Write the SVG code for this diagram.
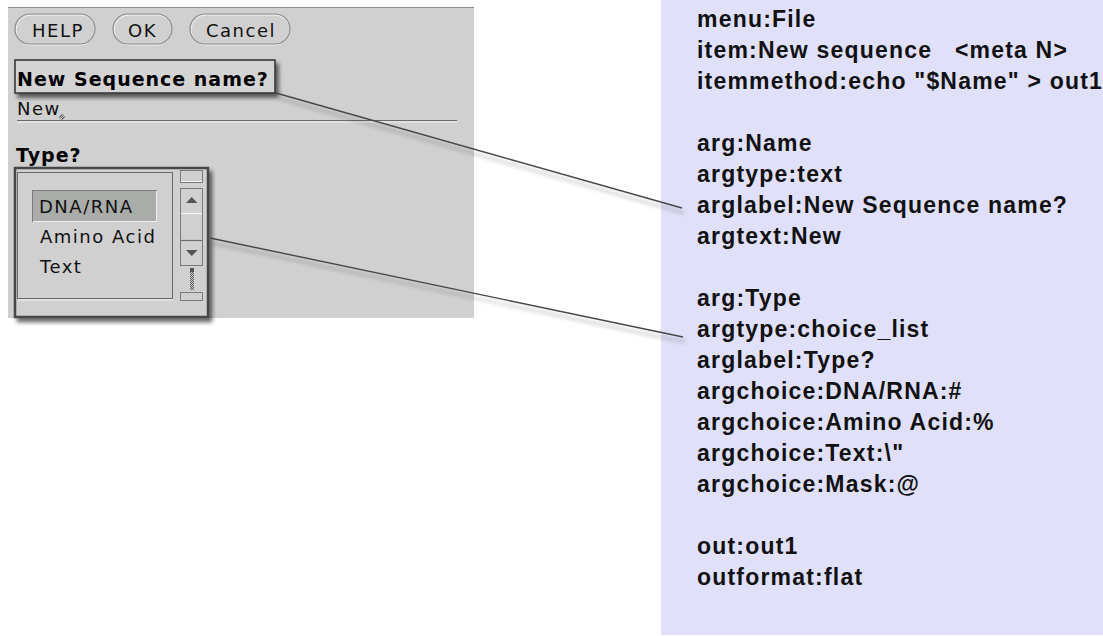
<svg xmlns="http://www.w3.org/2000/svg" width="1103" height="636" viewBox="0 0 1103 636">
  <defs>
    <filter id="shadow" x="-20%" y="-20%" width="150%" height="160%">
      <feGaussianBlur in="SourceAlpha" stdDeviation="2.2"/>
      <feOffset dx="3" dy="4" result="b"/>
      <feComponentTransfer><feFuncA type="linear" slope="0.6"/></feComponentTransfer>
      <feMerge><feMergeNode/><feMergeNode in="SourceGraphic"/></feMerge>
    </filter>
    <filter id="lineshadow" x="-10%" y="-50%" width="120%" height="200%">
      <feGaussianBlur in="SourceAlpha" stdDeviation="2"/>
      <feOffset dx="2" dy="5" result="b"/>
      <feComponentTransfer><feFuncA type="linear" slope="0.35"/></feComponentTransfer>
      <feMerge><feMergeNode/><feMergeNode in="SourceGraphic"/></feMerge>
    </filter>
    <pattern id="dither" width="2" height="2" patternUnits="userSpaceOnUse">
      <rect width="2" height="2" fill="#d0d0d0"/>
      <rect width="1" height="1" fill="#555"/>
      <rect x="1" y="1" width="1" height="1" fill="#555"/>
    </pattern>
  </defs>
  <style>
    .ui { font-family: "DejaVu Sans", sans-serif; font-size: 18px; fill: #111; letter-spacing: 1.5px; }
    .uib { font-family: "DejaVu Sans", sans-serif; font-size: 19px; font-weight: bold; fill: #000; letter-spacing: 1px; }
    .spec { font-family: "Liberation Sans", Arial, sans-serif; font-size: 23px; font-weight: bold; fill: #111; letter-spacing: 1.2px; }
    .btn { fill: none; stroke: #8a8a8a; stroke-width: 1.2; }
    .btnhi { fill: none; stroke: #f4f4f4; stroke-width: 1; }
    .sb { fill: #d0d0d0; stroke: #7a7a7a; stroke-width: 1; }
    .conn { fill: none; stroke: #474747; stroke-width: 1.4; }
  </style>

  <rect width="1103" height="636" fill="#ffffff"/>

  <g id="dialog">
    <rect x="8" y="7" width="466" height="311" fill="#d0d0d0"/>
    <line x1="8" y1="7.5" x2="474" y2="7.5" stroke="#8c8c8c" stroke-width="1"/>

    <g id="btn-help">
      <rect class="btnhi" x="16" y="15" width="79" height="30" rx="15"/>
      <rect class="btn" x="15" y="14" width="80" height="30" rx="15"/>
      <text class="ui" x="32" y="37">HELP</text>
    </g>
    <g id="btn-ok">
      <rect class="btnhi" x="114" y="15" width="58" height="30" rx="15"/>
      <rect class="btn" x="113" y="14" width="59" height="30" rx="15"/>
      <text class="ui" x="128" y="37">OK</text>
    </g>
    <g id="btn-cancel">
      <rect class="btnhi" x="191" y="15" width="99" height="30" rx="15"/>
      <rect class="btn" x="190" y="14" width="100" height="30" rx="15"/>
      <text class="ui" x="206" y="37">Cancel</text>
    </g>

    <g id="label-name">
      <rect x="15" y="60" width="260" height="33" fill="#d4d4d4" stroke="#3a3a3a" stroke-width="1.6" filter="url(#shadow)"/>
      <text class="uib" x="17" y="86">New Sequence name?</text>
    </g>

    <g id="field-name">
      <text class="ui" x="17" y="115" letter-spacing="0.5">New</text>
      <polygon points="62,114 65,117 62,120 59,117" fill="url(#dither)" stroke="#777" stroke-width="0.6"/>
      <line x1="17" y1="120.5" x2="457" y2="120.5" stroke="#6a6a6a" stroke-width="1.2"/>
      <line x1="17" y1="122" x2="457" y2="122" stroke="#f2f2f2" stroke-width="1"/>
    </g>

    <g id="label-type">
      <text class="uib" x="16" y="162">Type?</text>
    </g>

    <g id="type-list">
      <rect x="15" y="168" width="193" height="149" fill="#d0d0d0" stroke="#474747" stroke-width="2.5" filter="url(#shadow)"/>
      <rect x="17.5" y="172.5" width="155" height="126" fill="#d0d0d0" stroke="#6a6a6a" stroke-width="1"/>
      <line x1="18" y1="300" x2="173" y2="300" stroke="#f2f2f2" stroke-width="1"/>
      <rect x="32.5" y="190.5" width="124" height="31" fill="#aaacaa" stroke="#7c7c7c" stroke-width="1"/>
      <line x1="33" y1="221.5" x2="157" y2="221.5" stroke="#efefef" stroke-width="1"/>
      <line x1="156.5" y1="191" x2="156.5" y2="222" stroke="#efefef" stroke-width="1"/>
      <text class="ui" x="39" y="213" letter-spacing="2">DNA/RNA</text>
      <text class="ui" x="40" y="243" letter-spacing="1.7">Amino Acid</text>
      <text class="ui" x="40" y="273" letter-spacing="1.7">Text</text>

      <g id="scrollbar">
        <rect class="sb" x="180.5" y="170.5" width="22" height="12"/>
        <line x1="181" y1="181.5" x2="202" y2="181.5" stroke="#f4f4f4"/>
        <rect class="sb" x="180.5" y="188.5" width="22" height="77"/>
        <line x1="181" y1="213.5" x2="202" y2="213.5" stroke="#f4f4f4" stroke-width="1.2"/>
        <line x1="181" y1="240.5" x2="202" y2="240.5" stroke="#6e6e6e" stroke-width="1.2"/>
        <polygon points="186,203 197.5,203 191.75,197" fill="#555"/>
        <polygon points="186,250 197.5,250 191.75,256" fill="#555"/>
        <rect x="190" y="268" width="4" height="4" fill="#555"/>
        <rect x="190" y="272" width="4" height="18" fill="url(#dither)"/>
        <rect class="sb" x="180.5" y="292.5" width="22" height="8"/>
      </g>
    </g>
  </g>

  <g id="spec">
    <rect x="661" y="0" width="442" height="635" fill="#e0e0fa"/>
    <text class="spec" x="697" y="27">menu:File</text>
    <text class="spec" x="697" y="58" xml:space="preserve">item:New sequence   &lt;meta N&gt;</text>
    <text class="spec" x="697" y="89">itemmethod:echo "$Name" &gt; out1</text>
    <text class="spec" x="697" y="151">arg:Name</text>
    <text class="spec" x="697" y="182">argtype:text</text>
    <text class="spec" x="697" y="213">arglabel:New Sequence name?</text>
    <text class="spec" x="697" y="244">argtext:New</text>
    <text class="spec" x="697" y="306">arg:Type</text>
    <text class="spec" x="697" y="337">argtype:choice_list</text>
    <text class="spec" x="697" y="368">arglabel:Type?</text>
    <text class="spec" x="697" y="399">argchoice:DNA/RNA:#</text>
    <text class="spec" x="697" y="430">argchoice:Amino Acid:%</text>
    <text class="spec" x="697" y="461">argchoice:Text:\"</text>
    <text class="spec" x="697" y="492">argchoice:Mask:@</text>
    <text class="spec" x="697" y="554">out:out1</text>
    <text class="spec" x="697" y="585">outformat:flat</text>
  </g>

  <g id="connectors" filter="url(#lineshadow)">
    <line class="conn" x1="276" y1="93" x2="682" y2="208"/>
    <line class="conn" x1="210" y1="238" x2="683" y2="337"/>
  </g>
</svg>
